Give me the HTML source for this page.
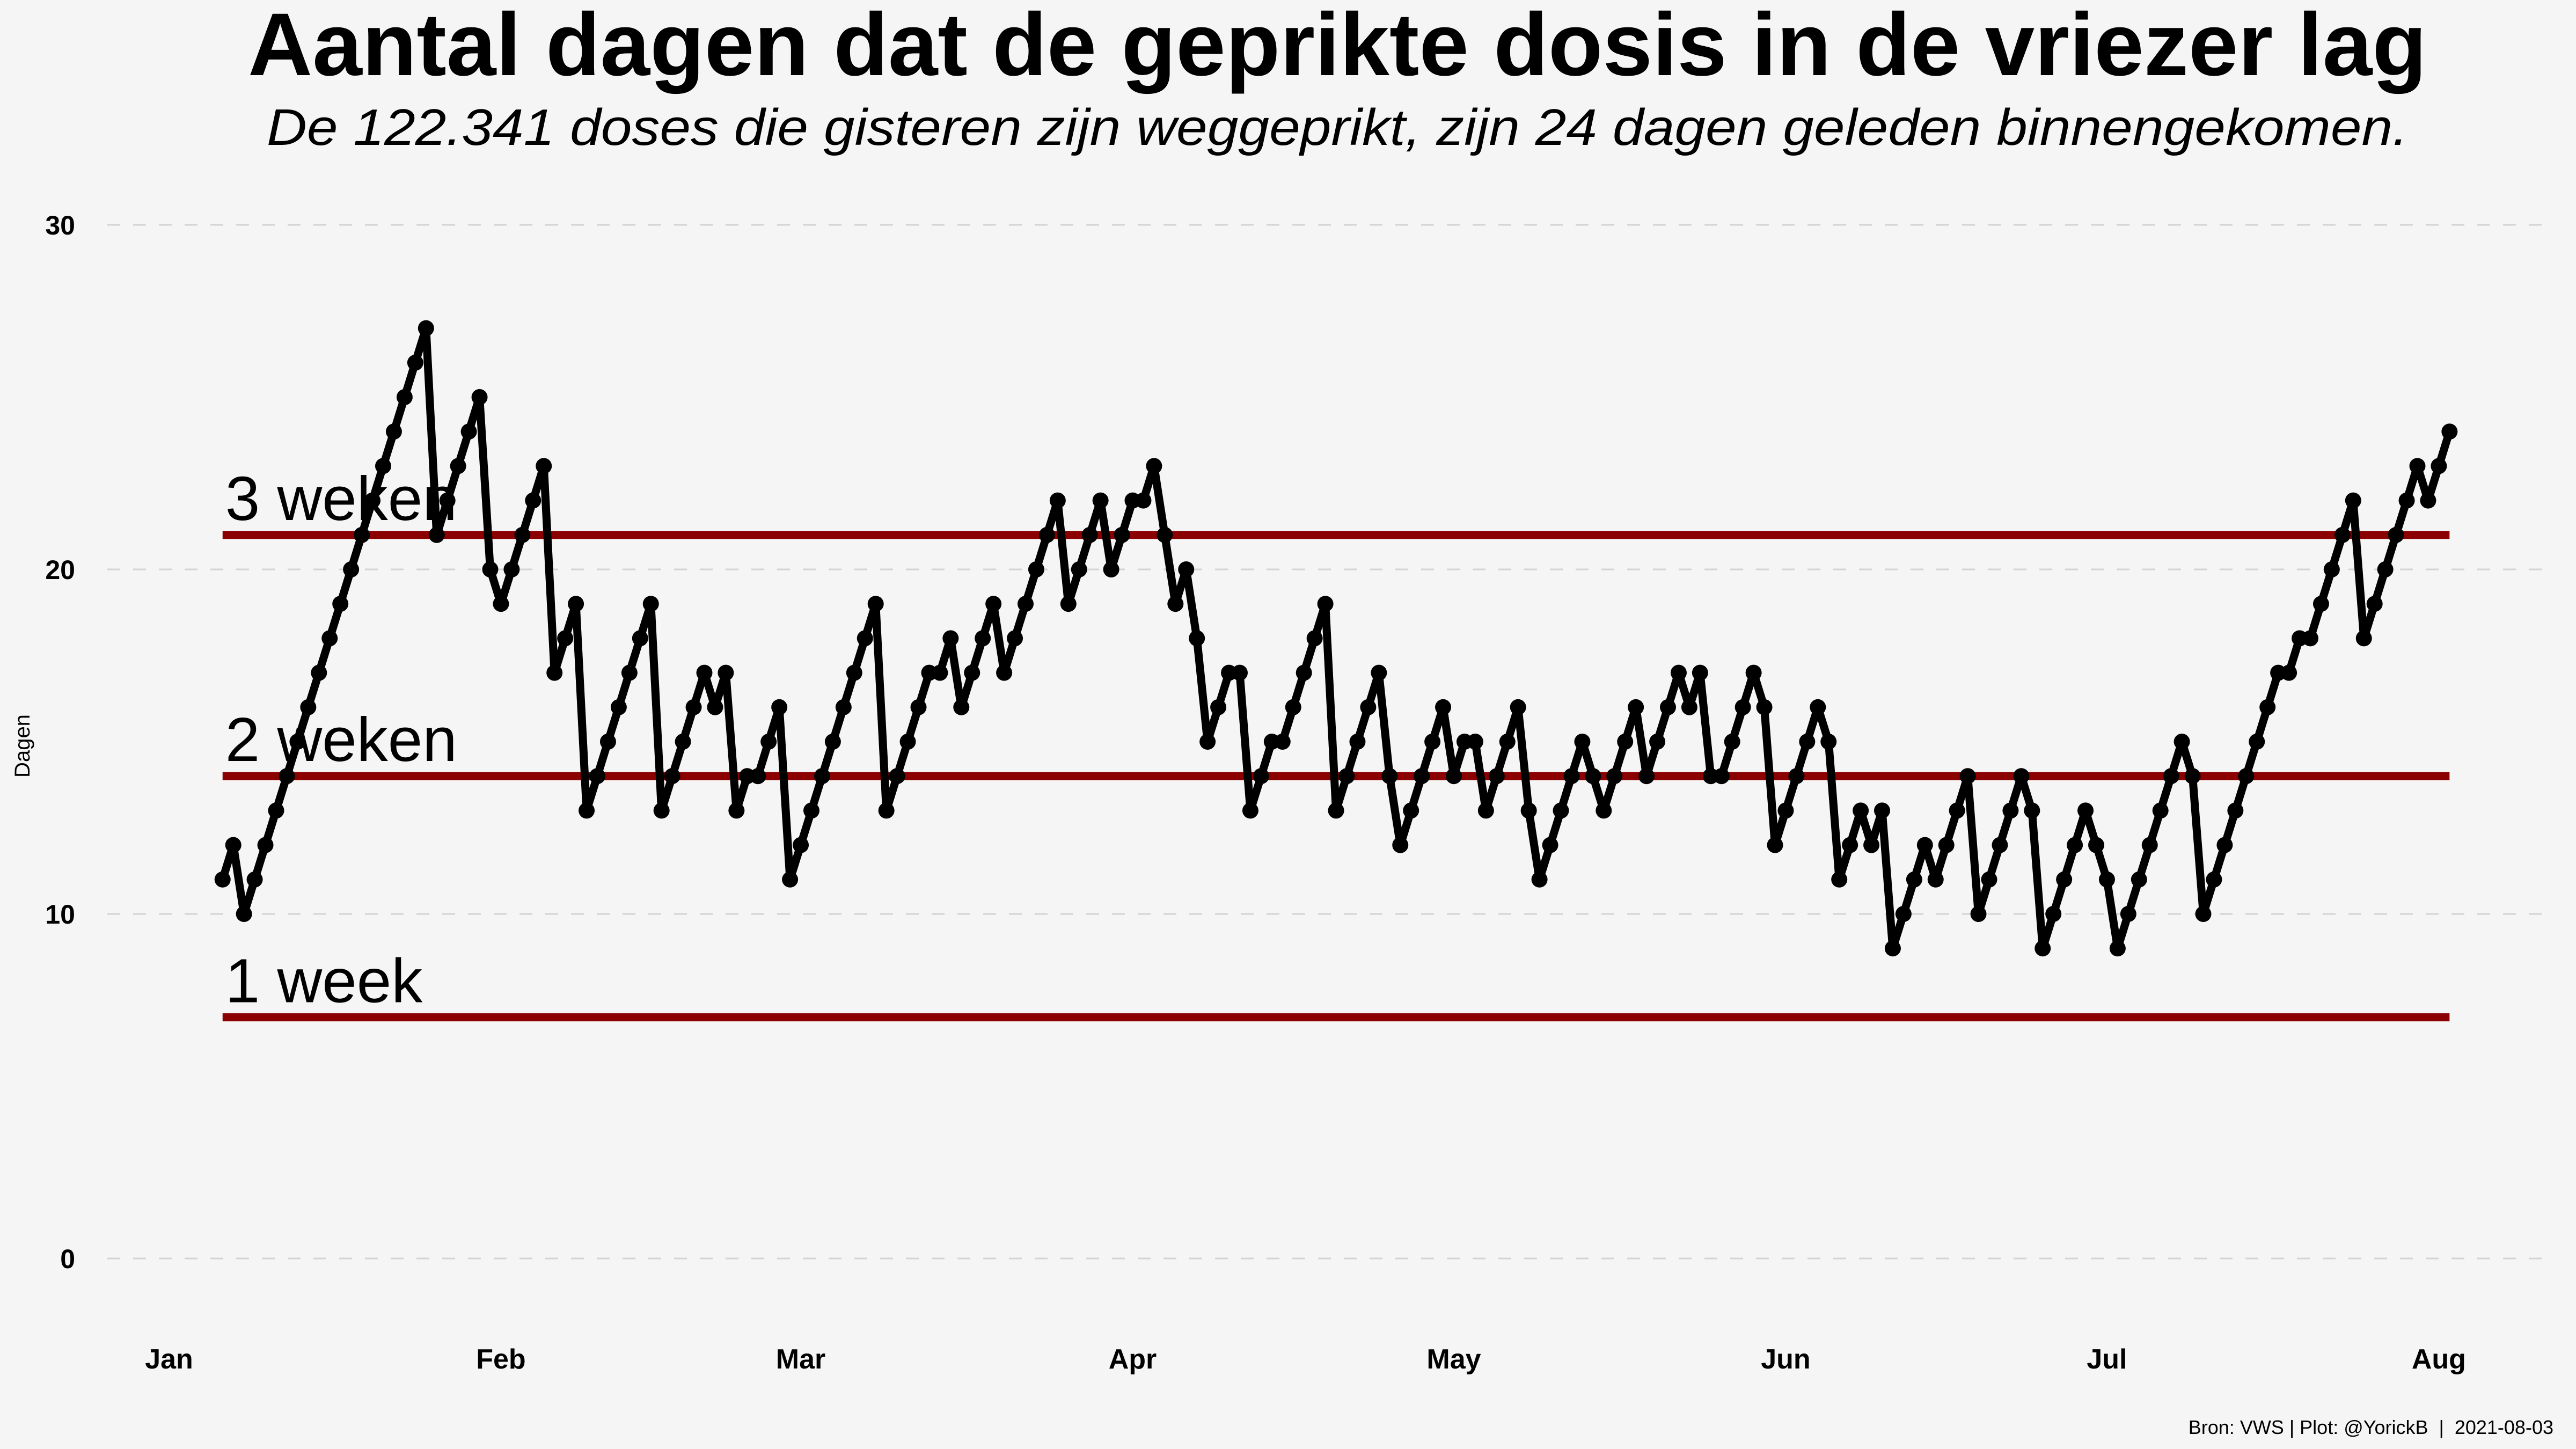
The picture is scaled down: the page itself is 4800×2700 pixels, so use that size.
<!DOCTYPE html>
<html><head><meta charset="utf-8"><style>
html,body{margin:0;padding:0;background:#f5f5f5;}
svg{display:block;font-family:"Liberation Sans",Arial,sans-serif;}
</style></head><body>
<svg id="chart" width="4800" height="2700" viewBox="0 0 4800 2700" xmlns="http://www.w3.org/2000/svg">
<rect width="4800" height="2700" fill="#f5f5f5"/>
<text x="2492" y="140" text-anchor="middle" font-size="166" font-weight="bold" fill="#000" textLength="4060" lengthAdjust="spacingAndGlyphs">Aantal dagen dat de geprikte dosis in de vriezer lag</text>
<text x="2492" y="270" text-anchor="middle" font-size="96" font-style="italic" fill="#000" textLength="3990" lengthAdjust="spacingAndGlyphs">De 122.341 doses die gisteren zijn weggeprikt, zijn 24 dagen geleden binnengekomen.</text>
<g id="grid"></g>
<g id="yticks"></g>
<g id="xticks"></g>
<g id="refs"></g>
<g id="series"></g>
<text x="0" y="0" transform="translate(55,1390) rotate(-90)" text-anchor="middle" font-size="40" fill="#000">Dagen</text>
<text x="4758" y="2672" text-anchor="end" font-size="36" fill="#000" xml:space="preserve">Bron: VWS | Plot: @YorickB  |  2021-08-03</text>
</svg>
<script>
const values = [11,12,10,11,12,13,14,15,16,17,18,19,20,21,22,23,24,25,26,27,
21,22,23,24,25,20,19,20,21,22,23,17,18,19,13,14,15,16,17,18,19,
13,14,15,16,17,16,17,13,14,14,15,16,11,12,13,14,15,16,17,18,19,
13,14,15,16,17,17,18,16,17,18,19,17,18,19,20,21,22,19,20,21,22,
20,21,22,22,23,21,19,20,18,15,16,17,17,13,14,15,15,16,17,18,19,
13,14,15,16,17,14,12,13,14,15,16,14,15,15,13,14,15,16,13,11,12,13,14,15,
14,13,14,15,16,14,15,16,17,16,17,14,14,15,16,17,16,12,13,14,15,16,
15,11,12,13,12,13,9,10,11,12,11,12,13,14,10,11,12,13,14,13,9,10,11,12,13,
12,11,9,10,11,12,13,14,15,14,10,11,12,13,14,15,16,17,17,18,18,19,20,21,22,
18,19,20,21,22,23,22,23,24];
const startDay = 5; // Jan 6 = day-of-year offset 5 (Jan 1 = 0)
const yTicks = [0,10,20,30];
const monthLabels = ["Jan","Feb","Mar","Apr","May","Jun","Jul","Aug"];
const monthDays = [0,31,59,90,120,151,181,212];
const refValues = [21,14,7];
const refLabels = ["3 weken","2 weken","1 week"];

const NS="http://www.w3.org/2000/svg";
const X = d => 315 + d*19.95;
const Y = v => 2345 - v*64.2;
function mk(tag, attrs, parent){const e=document.createElementNS(NS,tag);for(const k in attrs)e.setAttribute(k,attrs[k]);parent.appendChild(e);return e;}

const grid=document.getElementById('grid'), yt=document.getElementById('yticks'), xt=document.getElementById('xticks'), refs=document.getElementById('refs'), ser=document.getElementById('series');
yTicks.forEach(t=>{
  const l=mk('line',{x1:200,x2:4745,y1:Y(t),y2:Y(t),stroke:'#d3d3d3','stroke-width':3,'stroke-dasharray':'24 24'},grid);
  
  
  const tx=mk('text',{x:140,y:Y(t)+18,'text-anchor':'end','font-size':50,'font-weight':'bold',fill:'#000'},yt);
  tx.textContent=t;
  
  
});
monthLabels.forEach((m,i)=>{
  const tx=mk('text',{x:X(monthDays[i]),y:2550,'text-anchor':'middle','font-size':52,'font-weight':'bold',fill:'#000'},xt);
  tx.textContent=m;
  
  
});
const x0=X(startDay), x1=X(startDay+values.length-1);
refValues.forEach((v,i)=>{
  const l=mk('line',{x1:x0,x2:x1,y1:Y(v),y2:Y(v),stroke:'#8b0000','stroke-width':15},refs);
  
  
  const tx=mk('text',{x:x0+5,y:Y(v)-28,'font-size':116,fill:'#000'},refs);
  tx.textContent=refLabels[i];
  
  
});
const pts=values.map((v,i)=>X(startDay+i).toFixed(1)+','+Y(v).toFixed(1)).join(' ');
const pl=mk('polyline',{points:pts,fill:'none',stroke:'#000','stroke-width':15,'stroke-linejoin':'round'},ser);


values.forEach((v,i)=>{
  const c=mk('circle',{cx:X(startDay+i),cy:Y(v),r:15,fill:'#000'},ser);
  
  
});
</script>
</body></html>
